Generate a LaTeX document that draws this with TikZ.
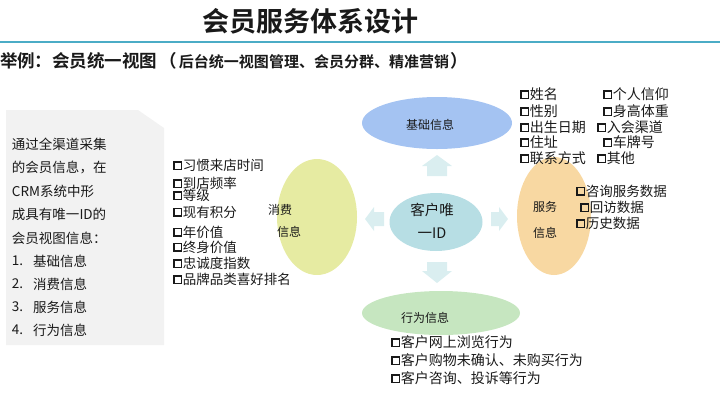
\documentclass[tikz,border=0pt]{standalone}
\usepackage{fontspec}
\setmainfont{Noto Sans CJK SC}[BoldFont={Noto Sans CJK SC Bold}]
\usetikzlibrary{shapes.geometric}
\newcommand\myfs[1]{\fontsize{#1}{#1}\selectfont}
\newcommand\cbx{\raisebox{0.12em}{\setlength\fboxsep{0pt}\setlength\fboxrule{1.6pt}\fbox{\rule{0pt}{6pt}\rule{6pt}{0pt}}}\kern0.6pt}
\definecolor{lineblue}{RGB}{75,172,198}
\definecolor{cblue}{RGB}{164,195,242}
\definecolor{cyellow}{RGB}{230,235,162}
\definecolor{cteal}{RGB}{183,222,228}
\definecolor{corange}{RGB}{248,216,162}
\definecolor{cgreen}{RGB}{198,230,192}
\definecolor{carrow}{RGB}{218,238,240}
\definecolor{cbox}{RGB}{242,242,242}
\definecolor{ctext}{RGB}{25,25,25}
\begin{document}
\begin{tikzpicture}[x=1pt,y=-1pt,
  every node/.style={inner sep=0pt, outer sep=0pt, text=ctext},
  lst/.style={anchor=west, font=\myfs{13.5}},
  lstb/.style={anchor=west, font=\myfs{14}},
  boxtxt/.style={anchor=west, font=\myfs{13.5}},
  ell/.style={ellipse, draw=none, inner sep=0pt},
  elab/.style={font=\myfs{12}},
  blockarrow/.style={fill=carrow, draw=none}]
\useasboundingbox (0,0) rectangle (720,405);

% title
\node (title) at (310,21) {\bfseries\myfs{27}会员服务体系设计};
\coordinate (lineL) at (0,42);
\coordinate (lineR) at (720,42);
\draw[lineblue, line width=1.6pt] (lineL) -- (lineR);
\node[anchor=west] (sub) at (0,61) {\bfseries\myfs{17.5}举例：会员统一视图\kern2pt（\kern2pt\myfs{15}后台统一视图管理、会员分群、精准营销\kern2pt\myfs{17.5}）};

% left box
\fill[cbox] (6,110) -- (138,110) -- (164,128) -- (164,345) -- (6,345) -- cycle;
\node[boxtxt] (b1) at (12,144) {通过全渠道采集};
\node[boxtxt] (b2) at (12,167) {的会员信息，在};
\node[boxtxt] (b3) at (12,191) {CRM系统中形};
\node[boxtxt] (b4) at (12,214) {成具有唯一ID的};
\node[boxtxt] (b5) at (12,238) {会员视图信息：};
\node[boxtxt] (n1) at (12,261) {1.};
\node[boxtxt] (t1) at (33,261) {基础信息};
\node[boxtxt] (n2) at (12,284) {2.};
\node[boxtxt] (t2) at (33,284) {消费信息};
\node[boxtxt] (n3) at (12,307) {3.};
\node[boxtxt] (t3) at (33,307) {服务信息};
\node[boxtxt] (n4) at (12,330) {4.};
\node[boxtxt] (t4) at (33,330) {行为信息};

% ellipses
\node[ell, fill=cblue, minimum width=150, minimum height=52] (basic) at (437,123) {};
\node[ell, fill=cyellow, minimum width=80, minimum height=116] (consume) at (317,217) {};
\node[ell, fill=cteal, minimum width=93, minimum height=58] (center) at (436,222) {};
\node[ell, fill=corange, minimum width=74, minimum height=118] (service) at (554,216) {};
\node[ell, fill=cgreen, minimum width=158, minimum height=44] (behav) at (441,313) {};

% ellipse labels
\node[elab] (basicL) at (430,125) {基础信息};
\node[elab] (consL1) at (280,210) {消费};
\node[elab] (consL2) at (289,232) {信息};
\node[font=\myfs{14.5}] (cenL1) at (432,210) {客户唯};
\node[font=\myfs{14.5}] (cenL2) at (432,233) {一ID};
\node[elab] (servL1) at (545,207) {服务};
\node[elab] (servL2) at (545,233) {信息};
\node[elab] (behL) at (425,318) {行为信息};

% block arrows
\fill[blockarrow] (437,155) -- (452,166) -- (447,166) -- (447,176) -- (427,176) -- (427,166) -- (422,166) -- cycle;
\fill[blockarrow] (437,283) -- (452,271) -- (447,271) -- (447,262) -- (427,262) -- (427,271) -- (422,271) -- cycle;
\fill[blockarrow] (365,219) -- (374,207) -- (374,212) -- (384,212) -- (384,226) -- (374,226) -- (374,231) -- cycle;
\fill[blockarrow] (508,219) -- (499,207) -- (499,212) -- (491,212) -- (491,226) -- (499,226) -- (499,231) -- cycle;

% consumption list
\node[lst] (c1) at (173,165) {\cbx 习惯来店时间};
\node[lst] (c2) at (173,183) {\cbx 到店频率};
\node[lst] (c3) at (173,195) {\cbx 等级};
\node[lst] (c4) at (173,212) {\cbx 现有积分};
\node[lst] (c5) at (173,232) {\cbx 年价值};
\node[lst] (c6) at (173,247) {\cbx 终身价值};
\node[lst] (c7) at (173,263) {\cbx 忠诚度指数};
\node[lst] (c8) at (173,279) {\cbx 品牌品类喜好排名};

% basic list
\node[lstb] (a1) at (520,94) {\cbx 姓名};
\node[lstb] (a2) at (520,111) {\cbx 性别};
\node[lstb] (a3) at (520,127) {\cbx 出生日期};
\node[lstb] (a4) at (520,142) {\cbx 住址};
\node[lstb] (a5) at (520,158) {\cbx 联系方式};
\node[lstb] (d1) at (603,94) {\cbx 个人信仰};
\node[lstb] (d2) at (603,111) {\cbx 身高体重};
\node[lstb] (d3) at (597,127) {\cbx 入会渠道};
\node[lstb] (d4) at (603,142) {\cbx 车牌号};
\node[lstb] (d5) at (597,158) {\cbx 其他};

% service list
\node[lst] (s1) at (576,191) {\cbx 咨询服务数据};
\node[lst] (s2) at (580,207) {\cbx 回访数据};
\node[lst] (s3) at (576,223) {\cbx 历史数据};

% behaviour list
\node[lstb] (h1) at (391,342) {\cbx 客户网上浏览行为};
\node[lstb] (h2) at (391,360) {\cbx 客户购物未确认、未购买行为};
\node[lstb] (h3) at (391,378) {\cbx 客户咨询、投诉等行为};
\end{tikzpicture}
\end{document}
